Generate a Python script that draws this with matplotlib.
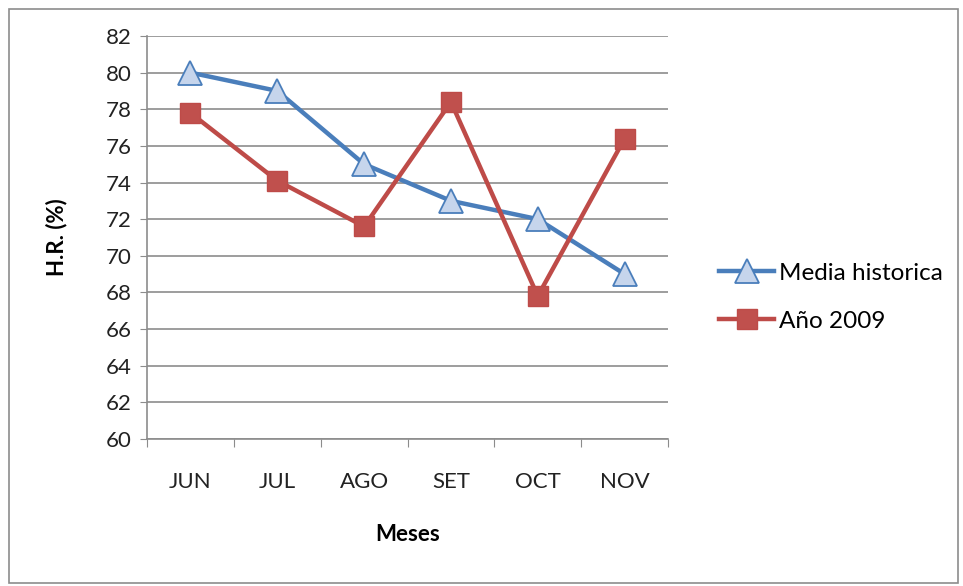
import matplotlib.pyplot as plt
from matplotlib.patches import Rectangle

plt.rcParams['font.family'] = ['Lato', 'DejaVu Sans']

meses = ['JUN', 'JUL', 'AGO', 'SET', 'OCT', 'NOV']
media_historica = [80.0, 79.0, 75.0, 73.0, 72.0, 69.0]
anio_2009 = [77.8, 74.1, 71.6, 78.4, 67.8, 76.4]

fig = plt.figure(figsize=(9.63, 5.86), dpi=100)
fig.patch.set_facecolor('white')
# outer chart border
fig.add_artist(Rectangle((9 / 963, 3 / 586), 949 / 963, 574 / 586,
                         transform=fig.transFigure, fill=False,
                         edgecolor='#8c8c8c', linewidth=1.2))

ax = fig.add_axes([0.1527, 0.2509, 0.5410, 0.6877])
x = range(len(meses))

ax.plot(x, media_historica, color='#4a7ebb', linewidth=3.2, marker='^',
        markersize=17, markerfacecolor='#c6d5ec', markeredgecolor='#4a7ebb',
        markeredgewidth=1.3, label='Media historica', zorder=3)
ax.plot(x, anio_2009, color='#be4b48', linewidth=3.2, marker='s',
        markersize=14, markerfacecolor='#c0504d', markeredgecolor='#be4b48',
        label='Año 2009', zorder=3)

ax.set_xlim(-0.5, len(meses) - 0.5)
ax.set_ylim(60, 82)
ax.set_yticks(range(60, 83, 2))
ax.set_xticks([i - 0.5 for i in range(len(meses) + 1)])
ax.set_xticklabels([])
ax.set_xticks(list(x), minor=True)
ax.set_xticklabels(meses, minor=True)
ax.tick_params(axis='x', which='minor', length=0, pad=24, labelsize=16,
               labelcolor='#222222')
ax.tick_params(axis='x', which='major', length=6, color='#8c8c8c')
ax.tick_params(axis='y', length=5, color='#8c8c8c', labelsize=16,
               labelcolor='#222222', pad=6)

ax.grid(axis='y', color='#8c8c8c', linewidth=1.2)
ax.set_axisbelow(True)
for side in ['top', 'right']:
    ax.spines[side].set_visible(False)
for side in ['left', 'bottom']:
    ax.spines[side].set_color('#8c8c8c')
    ax.spines[side].set_linewidth(1.2)

ax.set_ylabel('H.R. (%)', fontsize=16, fontweight='bold',
              ha='center', va='center')
ax.yaxis.set_label_coords(-0.173, 0.5)
ax.set_xlabel('Meses', fontsize=16, fontweight='bold',
              ha='center', va='center')
ax.xaxis.set_label_coords(0.5, -0.236)

leg = ax.legend(loc='center left', bbox_to_anchor=(1.055, 0.352), frameon=False,
                fontsize=17.5, handlelength=2.3, handletextpad=0.2,
                labelspacing=1.1)

fig.savefig('out.png', dpi=100)
